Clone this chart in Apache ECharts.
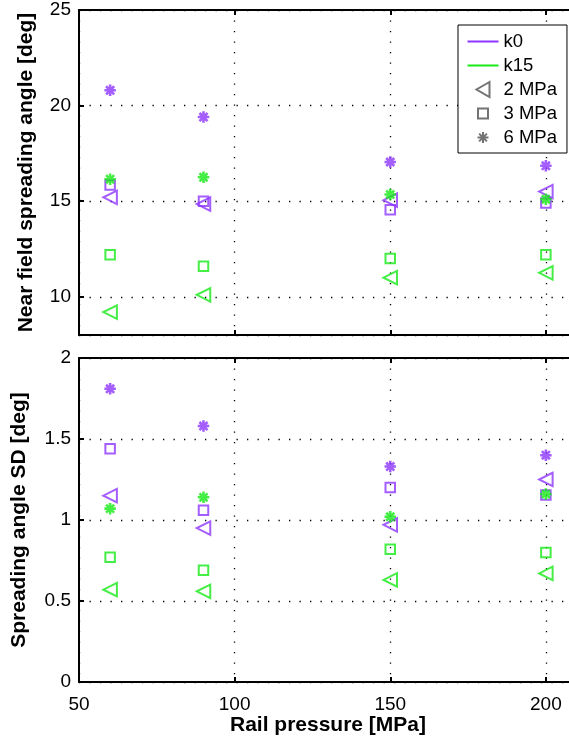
<!DOCTYPE html>
<html>
<head>
    <meta charset="UTF-8">
    <title>Spreading angle</title>
    <script src="https://cdn.jsdelivr.net/npm/echarts@6/dist/echarts.min.js"></script>
    <style>
        html, body { margin: 0; padding: 0; background: #fff; overflow: hidden; }
        #chart { width: 569px; height: 748px; }
    </style>
</head>
<body>
<div id="chart"></div>
<script>
    // rail pressure [MPa]
    var pressure = [60, 90, 150, 200];

    // near field spreading angle [deg]
    var nearK0_2 = [15.2, 14.85, 15.05, 15.5];
    var nearK0_3 = [15.85, 15.0, 14.55, 14.9];
    var nearK0_6 = [20.8, 19.4, 17.05, 16.85];
    var nearK15_2 = [9.2, 10.1, 11.0, 11.25];
    var nearK15_3 = [12.2, 11.6, 12.0, 12.2];
    var nearK15_6 = [16.15, 16.25, 15.35, 15.1];

    // spreading angle SD [deg]
    var sdK0_2 = [1.15, 0.95, 0.97, 1.25];
    var sdK0_3 = [1.44, 1.06, 1.2, 1.155];
    var sdK0_6 = [1.81, 1.58, 1.33, 1.4];
    var sdK15_2 = [0.57, 0.56, 0.63, 0.67];
    var sdK15_3 = [0.77, 0.69, 0.82, 0.8];
    var sdK15_6 = [1.07, 1.14, 1.02, 1.16];

    var purple = '#8d35ff';
    var green = '#17ea17';
    var gray = '#505050';
    var font = 'Liberation Sans';

    // marker shapes (outline only)
    var triPath = 'path://M10,0L0,5L10,10Z';
    var sqPath = 'path://M0,0L10,0L10,10L0,10Z';
    var starPath = 'path://M0,5L10,5M5,0L5,10M1.5,1.5L8.5,8.5M1.5,8.5L8.5,1.5';
    var marks = [
        {sym: triPath, size: 13.5, w: 2},
        {sym: sqPath, size: 9.5, w: 2},
        {sym: starPath, size: 11.5, w: 2.6}
    ];

    function pairs(ys) {
        var out = [];
        for (var i = 0; i < pressure.length; i++) {
            out.push([pressure[i], ys[i]]);
        }
        return out;
    }

    function mk(name, ys, m, color, idx) {
        return {
            name: name,
            type: 'scatter',
            xAxisIndex: idx,
            yAxisIndex: idx,
            data: pairs(ys),
            symbol: marks[m].sym,
            symbolSize: marks[m].size,
            itemStyle: {color: 'none', borderColor: color, borderWidth: marks[m].w},
            silent: true
        };
    }

    var dots = {color: '#000', width: 1.3, type: [1.3, 9.2]};
    var frame = {show: true, onZero: false, lineStyle: {color: '#000', width: 2}};
    var ticks = {inside: true, length: 5, lineStyle: {color: '#000', width: 2}};

    // x runs on a little past the right edge of the picture, as in the original
    function xAx(idx, bottomLabels) {
        return {
            type: 'value', gridIndex: idx, min: 50, max: 210, interval: 50,
            axisLine: frame,
            axisTick: ticks,
            axisLabel: {show: bottomLabels, showMaxLabel: false, margin: 13,
                color: '#000', fontSize: 19, fontFamily: font},
            splitLine: {show: true, lineStyle: dots},
            name: bottomLabels ? 'Rail pressure [MPa]' : '',
            nameLocation: 'middle', nameGap: 31,
            nameTextStyle: {color: '#000', fontSize: 21, fontWeight: 'bold', fontFamily: font}
        };
    }

    function xTop(idx) {
        return {
            type: 'value', gridIndex: idx, position: 'top', min: 50, max: 210, interval: 50,
            axisLine: frame,
            axisTick: ticks,
            axisLabel: {show: false},
            splitLine: {show: false}
        };
    }

    // legend icons drawn in a 31x18 box so they are not rescaled
    var lineIcon = 'path://M0,0M31,18M0,9L31,9';
    var triIcon = 'path://M0,0M31,18M22,1.5L9,9L22,16.5Z';
    var sqIcon = 'path://M0,0M31,18M10.5,4L20.5,4L20.5,14L10.5,14Z';
    var starIcon = 'path://M0,0M31,18M10,9L21,9M15.5,3.5L15.5,14.5M11.6,5.1L19.4,12.9M11.6,12.9L19.4,5.1';

    var option = {
        animation: false,
        backgroundColor: '#fff',
        grid: [
            {left: 79, top: 10, width: 498, height: 325, outerBoundsMode: 'none'},
            {left: 79, top: 358, width: 498, height: 324, outerBoundsMode: 'none'}
        ],
        xAxis: [xAx(0, false), xAx(1, true), xTop(0), xTop(1)],
        yAxis: [
            {
                type: 'value', gridIndex: 0, min: 8, max: 25, splitNumber: 3,
                axisLine: frame,
                axisTick: ticks,
                axisLabel: {showMinLabel: false, margin: 8, color: '#000', fontSize: 19, fontFamily: font},
                splitLine: {show: true, lineStyle: dots},
                name: 'Near field spreading angle [deg]',
                nameLocation: 'middle', nameGap: 42,
                nameTextStyle: {color: '#000', fontSize: 21, fontWeight: 'bold', fontFamily: font}
            },
            {
                type: 'value', gridIndex: 1, min: 0, max: 2, interval: 0.5,
                axisLine: frame,
                axisTick: ticks,
                axisLabel: {margin: 8, color: '#000', fontSize: 19, fontFamily: font},
                splitLine: {show: true, lineStyle: dots},
                name: 'Spreading angle SD [deg]',
                nameLocation: 'middle', nameGap: 49,
                nameTextStyle: {color: '#000', fontSize: 21, fontWeight: 'bold', fontFamily: font}
            }
        ],
        legend: {
            orient: 'vertical',
            left: 458, top: 25,
            padding: [5, 10, 4, 7],
            itemGap: 1,
            itemWidth: 31,
            itemHeight: 18,
            backgroundColor: '#fff',
            borderColor: '#000',
            borderWidth: 1,
            borderRadius: 0,
            selectedMode: false,
            textStyle: {color: '#000', fontSize: 18.5, lineHeight: 20, fontFamily: font},
            data: [
                {name: 'k0', icon: lineIcon, itemStyle: {color: 'none', borderColor: purple, borderWidth: 2}},
                {name: 'k15', icon: lineIcon, itemStyle: {color: 'none', borderColor: green, borderWidth: 2}},
                {name: '2 MPa', icon: triIcon},
                {name: '3 MPa', icon: sqIcon},
                {name: '6 MPa', icon: starIcon}
            ]
        },
        series: [
            // legend-only entries
            {name: 'k0', type: 'line', data: [], symbol: 'none', lineStyle: {color: purple, width: 2}, itemStyle: {color: purple}},
            {name: 'k15', type: 'line', data: [], symbol: 'none', lineStyle: {color: green, width: 2}, itemStyle: {color: green}},
            {name: '2 MPa', type: 'scatter', data: [], symbol: triPath, itemStyle: {color: 'none', borderColor: gray, borderWidth: 2.5}},
            {name: '3 MPa', type: 'scatter', data: [], symbol: sqPath, itemStyle: {color: 'none', borderColor: gray, borderWidth: 2.5}},
            {name: '6 MPa', type: 'scatter', data: [], symbol: starPath, itemStyle: {color: 'none', borderColor: gray, borderWidth: 2.8}},

            mk('k0 2', nearK0_2, 0, purple, 0),
            mk('k0 3', nearK0_3, 1, purple, 0),
            mk('k0 6', nearK0_6, 2, purple, 0),
            mk('k15 2', nearK15_2, 0, green, 0),
            mk('k15 3', nearK15_3, 1, green, 0),
            mk('k15 6', nearK15_6, 2, green, 0),

            mk('sd k0 2', sdK0_2, 0, purple, 1),
            mk('sd k0 3', sdK0_3, 1, purple, 1),
            mk('sd k0 6', sdK0_6, 2, purple, 1),
            mk('sd k15 2', sdK15_2, 0, green, 1),
            mk('sd k15 3', sdK15_3, 1, green, 1),
            mk('sd k15 6', sdK15_6, 2, green, 1)
        ]
    };

    var chart = echarts.init(document.getElementById('chart'), null, {renderer: 'canvas'});
    chart.setOption(option);
</script>
</body>
</html>
